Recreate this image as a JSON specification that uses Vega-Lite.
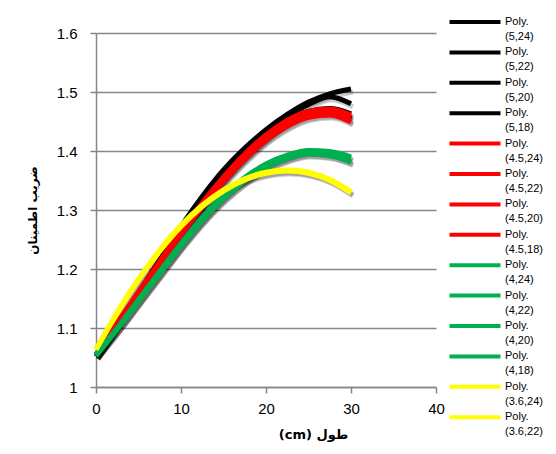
{
 "$schema": "https://vega.github.io/schema/vega-lite/v6.json",
 "width": 340, "height": 354,
 "autosize": "none",
 "padding": {"left": 96, "top": 33, "right": 120, "bottom": 67},
 "background": "white",
 "config": {"view": {"stroke": null}, "font": "Liberation Sans", "style": {"guide-label": {"lineHeight": 15}}},
 "data": {"values": [
{"s":"Poly. (5,24)","x":0,"y":1.052},{"s":"Poly. (5,24)","x":2.5,"y":1.105},{"s":"Poly. (5,24)","x":5,"y":1.160},{"s":"Poly. (5,24)","x":7.5,"y":1.215},{"s":"Poly. (5,24)","x":10,"y":1.272},{"s":"Poly. (5,24)","x":12.5,"y":1.323},{"s":"Poly. (5,24)","x":15,"y":1.368},{"s":"Poly. (5,24)","x":17.5,"y":1.405},{"s":"Poly. (5,24)","x":20,"y":1.436},{"s":"Poly. (5,24)","x":22.5,"y":1.462},{"s":"Poly. (5,24)","x":25,"y":1.483},{"s":"Poly. (5,24)","x":27.5,"y":1.497},{"s":"Poly. (5,24)","x":30,"y":1.505},
{"s":"Poly. (5,22)","x":0,"y":1.052},{"s":"Poly. (5,22)","x":2.5,"y":1.105},{"s":"Poly. (5,22)","x":5,"y":1.160},{"s":"Poly. (5,22)","x":7.5,"y":1.215},{"s":"Poly. (5,22)","x":10,"y":1.271},{"s":"Poly. (5,22)","x":12.5,"y":1.322},{"s":"Poly. (5,22)","x":15,"y":1.366},{"s":"Poly. (5,22)","x":17.5,"y":1.403},{"s":"Poly. (5,22)","x":20,"y":1.434},{"s":"Poly. (5,22)","x":22.5,"y":1.459},{"s":"Poly. (5,22)","x":25,"y":1.479},{"s":"Poly. (5,22)","x":27.5,"y":1.492},{"s":"Poly. (5,22)","x":30,"y":1.480},
{"s":"Poly. (5,20)","x":0,"y":1.053},{"s":"Poly. (5,20)","x":2.5,"y":1.106},{"s":"Poly. (5,20)","x":5,"y":1.159},{"s":"Poly. (5,20)","x":7.5,"y":1.212},{"s":"Poly. (5,20)","x":10,"y":1.263},{"s":"Poly. (5,20)","x":12.5,"y":1.311},{"s":"Poly. (5,20)","x":15,"y":1.355},{"s":"Poly. (5,20)","x":17.5,"y":1.394},{"s":"Poly. (5,20)","x":20,"y":1.426},{"s":"Poly. (5,20)","x":22.5,"y":1.451},{"s":"Poly. (5,20)","x":25,"y":1.467},{"s":"Poly. (5,20)","x":27.5,"y":1.472},{"s":"Poly. (5,20)","x":30,"y":1.463},
{"s":"Poly. (5,18)","x":0,"y":1.053},{"s":"Poly. (5,18)","x":2.5,"y":1.106},{"s":"Poly. (5,18)","x":5,"y":1.158},{"s":"Poly. (5,18)","x":7.5,"y":1.210},{"s":"Poly. (5,18)","x":10,"y":1.261},{"s":"Poly. (5,18)","x":12.5,"y":1.309},{"s":"Poly. (5,18)","x":15,"y":1.352},{"s":"Poly. (5,18)","x":17.5,"y":1.391},{"s":"Poly. (5,18)","x":20,"y":1.423},{"s":"Poly. (5,18)","x":22.5,"y":1.448},{"s":"Poly. (5,18)","x":25,"y":1.463},{"s":"Poly. (5,18)","x":27.5,"y":1.467},{"s":"Poly. (5,18)","x":30,"y":1.455},
{"s":"Poly. (4.5,24)","x":0,"y":1.055},{"s":"Poly. (4.5,24)","x":2.5,"y":1.108},{"s":"Poly. (4.5,24)","x":5,"y":1.161},{"s":"Poly. (4.5,24)","x":7.5,"y":1.213},{"s":"Poly. (4.5,24)","x":10,"y":1.264},{"s":"Poly. (4.5,24)","x":12.5,"y":1.312},{"s":"Poly. (4.5,24)","x":15,"y":1.356},{"s":"Poly. (4.5,24)","x":17.5,"y":1.395},{"s":"Poly. (4.5,24)","x":20,"y":1.427},{"s":"Poly. (4.5,24)","x":22.5,"y":1.452},{"s":"Poly. (4.5,24)","x":25,"y":1.467},{"s":"Poly. (4.5,24)","x":27.5,"y":1.471},{"s":"Poly. (4.5,24)","x":30,"y":1.461},
{"s":"Poly. (4.5,22)","x":0,"y":1.054},{"s":"Poly. (4.5,22)","x":2.5,"y":1.107},{"s":"Poly. (4.5,22)","x":5,"y":1.159},{"s":"Poly. (4.5,22)","x":7.5,"y":1.210},{"s":"Poly. (4.5,22)","x":10,"y":1.260},{"s":"Poly. (4.5,22)","x":12.5,"y":1.307},{"s":"Poly. (4.5,22)","x":15,"y":1.350},{"s":"Poly. (4.5,22)","x":17.5,"y":1.388},{"s":"Poly. (4.5,22)","x":20,"y":1.420},{"s":"Poly. (4.5,22)","x":22.5,"y":1.444},{"s":"Poly. (4.5,22)","x":25,"y":1.459},{"s":"Poly. (4.5,22)","x":27.5,"y":1.463},{"s":"Poly. (4.5,22)","x":30,"y":1.451},
{"s":"Poly. (4.5,20)","x":0,"y":1.055},{"s":"Poly. (4.5,20)","x":2.5,"y":1.108},{"s":"Poly. (4.5,20)","x":5,"y":1.160},{"s":"Poly. (4.5,20)","x":7.5,"y":1.212},{"s":"Poly. (4.5,20)","x":10,"y":1.262},{"s":"Poly. (4.5,20)","x":12.5,"y":1.310},{"s":"Poly. (4.5,20)","x":15,"y":1.354},{"s":"Poly. (4.5,20)","x":17.5,"y":1.392},{"s":"Poly. (4.5,20)","x":20,"y":1.424},{"s":"Poly. (4.5,20)","x":22.5,"y":1.449},{"s":"Poly. (4.5,20)","x":25,"y":1.464},{"s":"Poly. (4.5,20)","x":27.5,"y":1.468},{"s":"Poly. (4.5,20)","x":30,"y":1.458},
{"s":"Poly. (4.5,18)","x":0,"y":1.054},{"s":"Poly. (4.5,18)","x":2.5,"y":1.106},{"s":"Poly. (4.5,18)","x":5,"y":1.158},{"s":"Poly. (4.5,18)","x":7.5,"y":1.209},{"s":"Poly. (4.5,18)","x":10,"y":1.258},{"s":"Poly. (4.5,18)","x":12.5,"y":1.305},{"s":"Poly. (4.5,18)","x":15,"y":1.348},{"s":"Poly. (4.5,18)","x":17.5,"y":1.386},{"s":"Poly. (4.5,18)","x":20,"y":1.418},{"s":"Poly. (4.5,18)","x":22.5,"y":1.442},{"s":"Poly. (4.5,18)","x":25,"y":1.457},{"s":"Poly. (4.5,18)","x":27.5,"y":1.461},{"s":"Poly. (4.5,18)","x":30,"y":1.449},
{"s":"Poly. (4,24)","x":0,"y":1.055},{"s":"Poly. (4,24)","x":2.5,"y":1.100},{"s":"Poly. (4,24)","x":5,"y":1.148},{"s":"Poly. (4,24)","x":7.5,"y":1.196},{"s":"Poly. (4,24)","x":10,"y":1.243},{"s":"Poly. (4,24)","x":12.5,"y":1.287},{"s":"Poly. (4,24)","x":15,"y":1.325},{"s":"Poly. (4,24)","x":17.5,"y":1.355},{"s":"Poly. (4,24)","x":20,"y":1.378},{"s":"Poly. (4,24)","x":22.5,"y":1.393},{"s":"Poly. (4,24)","x":25,"y":1.401},{"s":"Poly. (4,24)","x":27.5,"y":1.399},{"s":"Poly. (4,24)","x":30,"y":1.390},
{"s":"Poly. (4,22)","x":0,"y":1.053},{"s":"Poly. (4,22)","x":2.5,"y":1.098},{"s":"Poly. (4,22)","x":5,"y":1.146},{"s":"Poly. (4,22)","x":7.5,"y":1.193},{"s":"Poly. (4,22)","x":10,"y":1.240},{"s":"Poly. (4,22)","x":12.5,"y":1.283},{"s":"Poly. (4,22)","x":15,"y":1.320},{"s":"Poly. (4,22)","x":17.5,"y":1.350},{"s":"Poly. (4,22)","x":20,"y":1.373},{"s":"Poly. (4,22)","x":22.5,"y":1.388},{"s":"Poly. (4,22)","x":25,"y":1.396},{"s":"Poly. (4,22)","x":27.5,"y":1.393},{"s":"Poly. (4,22)","x":30,"y":1.381},
{"s":"Poly. (4,20)","x":0,"y":1.054},{"s":"Poly. (4,20)","x":2.5,"y":1.099},{"s":"Poly. (4,20)","x":5,"y":1.147},{"s":"Poly. (4,20)","x":7.5,"y":1.195},{"s":"Poly. (4,20)","x":10,"y":1.242},{"s":"Poly. (4,20)","x":12.5,"y":1.285},{"s":"Poly. (4,20)","x":15,"y":1.323},{"s":"Poly. (4,20)","x":17.5,"y":1.353},{"s":"Poly. (4,20)","x":20,"y":1.376},{"s":"Poly. (4,20)","x":22.5,"y":1.391},{"s":"Poly. (4,20)","x":25,"y":1.399},{"s":"Poly. (4,20)","x":27.5,"y":1.397},{"s":"Poly. (4,20)","x":30,"y":1.388},
{"s":"Poly. (4,18)","x":0,"y":1.053},{"s":"Poly. (4,18)","x":2.5,"y":1.098},{"s":"Poly. (4,18)","x":5,"y":1.145},{"s":"Poly. (4,18)","x":7.5,"y":1.192},{"s":"Poly. (4,18)","x":10,"y":1.239},{"s":"Poly. (4,18)","x":12.5,"y":1.282},{"s":"Poly. (4,18)","x":15,"y":1.319},{"s":"Poly. (4,18)","x":17.5,"y":1.349},{"s":"Poly. (4,18)","x":20,"y":1.372},{"s":"Poly. (4,18)","x":22.5,"y":1.387},{"s":"Poly. (4,18)","x":25,"y":1.395},{"s":"Poly. (4,18)","x":27.5,"y":1.392},{"s":"Poly. (4,18)","x":30,"y":1.382},
{"s":"Poly. (3.6,24)","x":0,"y":1.064},{"s":"Poly. (3.6,24)","x":2.5,"y":1.127},{"s":"Poly. (3.6,24)","x":5,"y":1.183},{"s":"Poly. (3.6,24)","x":7.5,"y":1.232},{"s":"Poly. (3.6,24)","x":10,"y":1.274},{"s":"Poly. (3.6,24)","x":12.5,"y":1.308},{"s":"Poly. (3.6,24)","x":15,"y":1.334},{"s":"Poly. (3.6,24)","x":17.5,"y":1.353},{"s":"Poly. (3.6,24)","x":20,"y":1.364},{"s":"Poly. (3.6,24)","x":22.5,"y":1.368},{"s":"Poly. (3.6,24)","x":25,"y":1.364},{"s":"Poly. (3.6,24)","x":27.5,"y":1.352},{"s":"Poly. (3.6,24)","x":30,"y":1.331},
{"s":"Poly. (3.6,22)","x":0,"y":1.063},{"s":"Poly. (3.6,22)","x":2.5,"y":1.125},{"s":"Poly. (3.6,22)","x":5,"y":1.181},{"s":"Poly. (3.6,22)","x":7.5,"y":1.230},{"s":"Poly. (3.6,22)","x":10,"y":1.272},{"s":"Poly. (3.6,22)","x":12.5,"y":1.306},{"s":"Poly. (3.6,22)","x":15,"y":1.332},{"s":"Poly. (3.6,22)","x":17.5,"y":1.351},{"s":"Poly. (3.6,22)","x":20,"y":1.362},{"s":"Poly. (3.6,22)","x":22.5,"y":1.366},{"s":"Poly. (3.6,22)","x":25,"y":1.362},{"s":"Poly. (3.6,22)","x":27.5,"y":1.350},{"s":"Poly. (3.6,22)","x":30,"y":1.329}
 ]},
 "encoding": {
  "x": {"field": "x", "type": "quantitative", "scale": {"domain": [0, 40]},
        "axis": {"values": [0, 10, 20, 30, 40], "grid": false, "domainColor": "#868686", "domainWidth": 1.5, "tickColor": "#868686", "tickWidth": 1.5, "tickSize": 6, "labelFontSize": 15, "labelColor": "#000", "labelPadding": 8, "labelFlush": false,
                 "title": "(cm) طول", "titleFont": "DejaVu Sans", "titleFontSize": 13, "titleFontWeight": "bold", "titleColor": "#000", "titleX": 217, "titleY": 47, "titleBaseline": "middle", "titleAlign": "center"}},
  "y": {"field": "y", "type": "quantitative", "scale": {"domain": [1, 1.6]},
        "axis": {"values": [1, 1.1, 1.2, 1.3, 1.4, 1.5, 1.6], "format": "~g", "grid": true, "gridColor": "#868686", "gridWidth": 1.5, "domainColor": "#868686", "domainWidth": 1.5, "tickColor": "#868686", "tickWidth": 1.5, "tickSize": 6, "labelFontSize": 15, "labelColor": "#000", "labelPadding": 13, "labelFlush": false,
                 "title": "ضریب اطمینان", "titleFont": "DejaVu Sans", "titleFontSize": 12, "titleFontWeight": "bold", "titleColor": "#000", "titlePadding": 17}},
  "color": {"field": "s", "type": "nominal",
            "scale": {"domain": ["Poly. (5,24)", "Poly. (5,22)", "Poly. (5,20)", "Poly. (5,18)", "Poly. (4.5,24)", "Poly. (4.5,22)", "Poly. (4.5,20)", "Poly. (4.5,18)", "Poly. (4,24)", "Poly. (4,22)", "Poly. (4,20)", "Poly. (4,18)", "Poly. (3.6,24)", "Poly. (3.6,22)"],
                      "range": ["#000000", "#000000", "#000000", "#000000", "#ff0000", "#ff0000", "#ff0000", "#ff0000", "#00b050", "#00b050", "#00b050", "#00b050", "#ffff00", "#ffff00"]},
            "legend": {"orient": "none", "legendX": 372, "legendY": -18, "title": null, "padding": 0, "symbolType": "M-5.1,0H5.1", "symbolSize": 100, "symbolStrokeWidth": 4, "labelFontSize": 11, "labelColor": "#000", "labelOffset": 23, "labelLimit": 200, "labelExpr": "split(datum.label, ' ')", "labelBaseline": "middle", "rowPadding": 2.4}}
 },
 "layer": [
  {"mark": {"type": "line", "interpolate": "monotone", "strokeWidth": 5, "opacity": 0.2, "xOffset": 2, "yOffset": 3},
   "encoding": {"color": {"value": "#000000"}, "detail": {"field": "s"}}},
  {"transform": [{"filter": "indexof(datum.s, '(5,') >= 0"}], "mark": {"type": "line", "interpolate": "monotone", "strokeWidth": 5}},
  {"transform": [{"filter": "indexof(datum.s, '(4.5,') >= 0"}], "mark": {"type": "line", "interpolate": "monotone", "strokeWidth": 5}},
  {"transform": [{"filter": "indexof(datum.s, '(4,') >= 0"}], "mark": {"type": "line", "interpolate": "monotone", "strokeWidth": 5}},
  {"transform": [{"filter": "indexof(datum.s, '(3.6,') >= 0"}], "mark": {"type": "line", "interpolate": "monotone", "strokeWidth": 5}}
 ]
}
